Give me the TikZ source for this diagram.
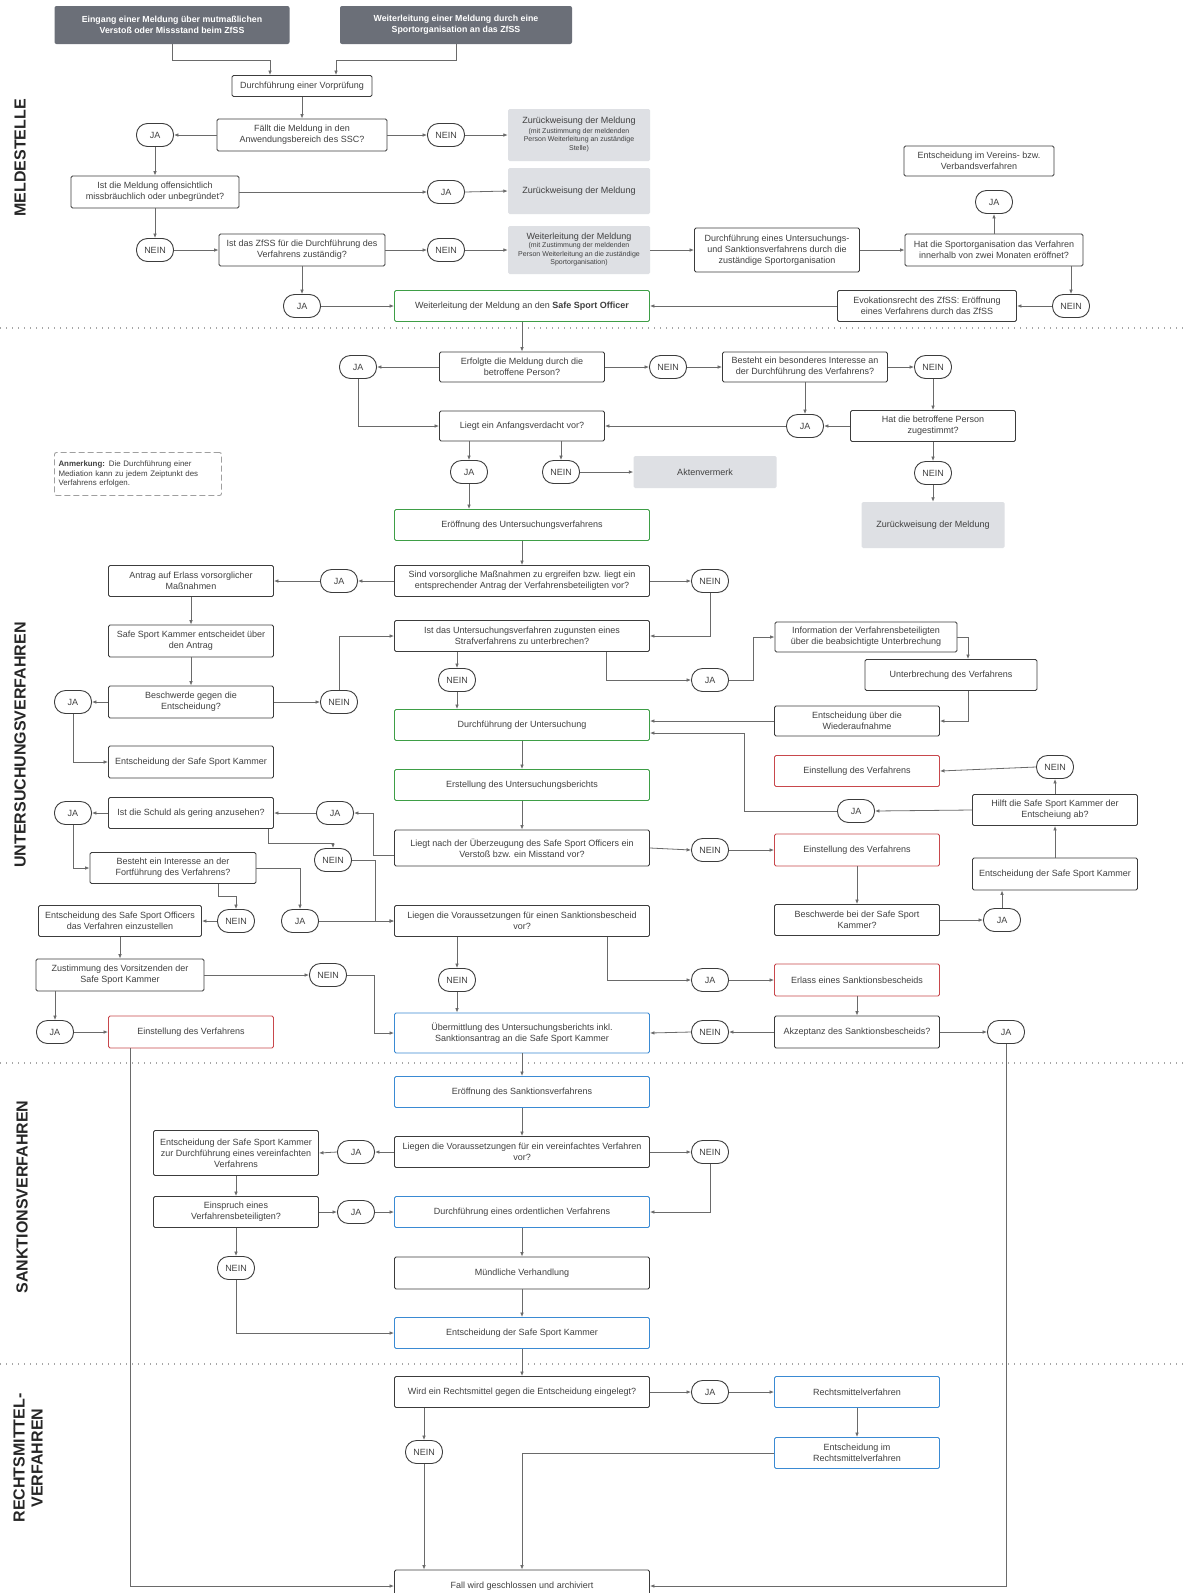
\documentclass[tikz,border=0pt]{standalone}
\usepackage{fontspec}
\setmainfont{Liberation Sans}
\usetikzlibrary{arrows.meta,calc}
\definecolor{hdr}{HTML}{6B6F78}
\definecolor{bd}{HTML}{3C3C3C}
\definecolor{lnc}{HTML}{6A6A6A}
\definecolor{txt}{HTML}{404040}
\definecolor{gboxc}{HTML}{DEE0E4}
\definecolor{grn}{HTML}{3E9E46}
\definecolor{rdc}{HTML}{C8474C}
\definecolor{blu}{HTML}{3A8AD3}
\newcommand\dfs{\fontsize{9}{11.2}\selectfont}
\newcommand\dfss{\fontsize{7}{8.4}\selectfont}
\newcommand\dfhd{\fontsize{8.8}{11}\selectfont\bfseries}
\newcommand\dflab{\fontsize{16}{18}\selectfont\bfseries}
\newcommand\dfnote{\fontsize{7.9}{9.8}\selectfont}
\newcommand\smalllines[1]{\dfss\begin{tabular}{@{}c@{}}#1\end{tabular}}
\tikzset{
 wh/.style 2 args={minimum width=#1pt, minimum height=#2pt},
 base/.style={align=center, inner sep=1pt, font=\dfs, text=txt, rounded corners=1.5pt},
 box/.style={base, draw=bd, line width=0.9pt, fill=white},
 gbx/.style={base, fill=gboxc},
 hbx/.style={base, fill=hdr, text=white, font=\dfhd, rounded corners=2pt},
 grnbox/.style={box, draw=grn},
 redbox/.style={box, draw=rdc},
 blubox/.style={box, draw=blu},
 pill/.style={draw=bd, line width=0.9pt, rounded corners=11pt, minimum width=37pt, minimum height=23pt, inner sep=0pt, font=\dfs, text=txt, fill=white},
 conn/.style={draw=lnc, line width=0.8pt, -{Latex[length=4.5pt,width=3.6pt]}},
 sep/.style={draw=gray!70, line width=1.3pt, dash pattern=on 1.3pt off 4.7pt},
 lab/.style={rotate=90, font=\dflab, text=black!85, align=center},
}
\begin{document}
\begin{tikzpicture}[x=1pt,y=-1pt]
\useasboundingbox (0,0) rectangle (1187,1593);
\fill[white] (0,0) rectangle (1187,1593);

% separators
\draw[sep] (0,328) -- (1187,328);
\draw[sep] (0,1063) -- (1187,1063);
\draw[sep] (0,1364) -- (1187,1364);

% section labels
\node[lab] (L1) at (20,158) {MELDESTELLE};
\node[lab] (L2) at (20,745) {UNTERSUCHUNGSVERFAHREN};
\node[lab] (L3) at (22,1197) {SANKTIONSVERFAHREN};
\node[lab] (L4) at (28,1458) {RECHTSMITTEL-\\VERFAHREN};

% ===== MELDESTELLE =====
\node[hbx, wh={235}{38}] (A) at (172,25) {Eingang einer Meldung über mutmaßlichen\\Verstoß oder Missstand beim ZfSS};
\node[hbx, wh={232}{38}] (B) at (456,25) {Weiterleitung einer Meldung durch eine\\Sportorganisation an das ZfSS};
\node[box, wh={140}{21}] (C) at (302,86) {Durchführung einer Vorprüfung};
\node[box, wh={170}{32}] (D) at (302,135) {Fällt die Meldung in den\\Anwendungsbereich des SSC?};
\node[pill] (JA1) at (155,135) {JA};
\node[pill] (NEIN1) at (446,135) {NEIN};
\node[gbx, wh={142}{52}] (G1) at (579,135) {Zurückweisung der Meldung\\[1pt]\smalllines{(mit Zustimmung der meldenden\\Person Weiterleitung an zuständige\\Stelle)}};
\node[box, wh={168}{32}] (E) at (155,192) {Ist die Meldung offensichtlich\\missbräuchlich oder unbegründet?};
\node[pill] (JA2) at (446,192) {JA};
\node[gbx, wh={142}{46}] (G2) at (579,191) {Zurückweisung der Meldung};
\node[box, wh={150}{30}] (J) at (979,161) {Entscheidung im Vereins- bzw.\\Verbandsverfahren};
\node[pill] (JA3) at (994,202) {JA};
\node[pill] (NEIN2) at (155,250) {NEIN};
\node[box, wh={166}{32}] (F) at (302,250) {Ist das ZfSS für die Durchführung des\\Verfahrens zuständig?};
\node[pill] (NEIN3) at (446,250) {NEIN};
\node[gbx, wh={142}{48}] (G3) at (579,250) {Weiterleitung der Meldung\\[0pt]\smalllines{(mit Zustimmung der meldenden\\Person Weiterleitung an die zuständige\\Sportorganisation)}};
\node[box, wh={165}{44}] (H) at (777,250) {Durchführung eines Untersuchungs-\\und Sanktionsverfahrens durch die\\zuständige Sportorganisation};
\node[box, wh={178}{32}] (I) at (994,250) {Hat die Sportorganisation das Verfahren\\innerhalb von zwei Monaten eröffnet?};
\node[pill] (JA4) at (302,306) {JA};
\node[grnbox, wh={255}{31}] (K) at (522,306) {Weiterleitung der Meldung an den \textbf{Safe Sport Officer}};
\node[box, wh={179}{31}] (L) at (927,306) {Evokationsrecht des ZfSS: Eröffnung\\eines Verfahrens durch das ZfSS};
\node[pill] (NEIN4) at (1071,306) {NEIN};

\draw[conn] (A.south) -- ++(0,16) -| ([xshift=-32pt]C.north);
\draw[conn] (B.south) -- ++(0,16) -| ([xshift=34pt]C.north);
\draw[conn] (C.south) -- (D.north);
\draw[conn] (D.west) -- (JA1.east);
\draw[conn] (D.east) -- (NEIN1.west);
\draw[conn] (NEIN1.east) -- (G1.west);
\draw[conn] (JA1.south) -- (E.north);
\draw[conn] (E.east) -- (JA2.west);
\draw[conn] (JA2.east) -- (G2.west);
\draw[conn] (E.south) -- (NEIN2.north);
\draw[conn] (NEIN2.east) -- (F.west);
\draw[conn] (F.east) -- (NEIN3.west);
\draw[conn] (NEIN3.east) -- (G3.west);
\draw[conn] (G3.east) -- (H.west);
\draw[conn] (H.east) -- (I.west);
\draw[conn] (I.north) -- (JA3.south);
\draw[conn] (NEIN4.north |- I.south) -- (NEIN4.north);
\draw[conn] (NEIN4.west) -- (L.east);
\draw[conn] (L.west) -- (K.east);
\draw[conn] (F.south) -- (JA4.north);
\draw[conn] (JA4.east) -- (K.west);

% ===== UNTERSUCHUNGSVERFAHREN =====
\node[box, wh={165}{30}] (M) at (522,367) {Erfolgte die Meldung durch die\\betroffene Person?};
\node[pill] (JA5) at (358,367) {JA};
\node[pill] (NEIN5) at (668,367) {NEIN};
\node[box, wh={165}{30}] (N) at (805,367) {Besteht ein besonderes Interesse an\\der Durchführung des Verfahrens?};
\node[pill] (NEIN6) at (933,367) {NEIN};
\node[box, wh={165}{30}] (O) at (522,426) {Liegt ein Anfangsverdacht vor?};
\node[pill] (JA6) at (805,426) {JA};
\node[box, wh={165}{31}] (P) at (933,426) {Hat die betroffene Person\\zugestimmt?};
\node[pill] (NEIN7) at (933,473) {NEIN};
\node[gbx, wh={143}{46}] (Q) at (933,525) {Zurückweisung der Meldung};
\node[pill] (JA7) at (469,472) {JA};
\node[pill] (NEIN8) at (561,472) {NEIN};
\node[gbx, wh={143}{32}] (R) at (705,472) {Aktenvermerk};
\node[draw=gray!75, line width=0.9pt, dash pattern=on 6pt off 3pt, rounded corners=2pt, wh={167}{43}, text width=159pt, align=left, font=\dfnote, text=txt, inner sep=3pt] (NOTE) at (138,474) {\textbf{Anmerkung:} Die Durchführung einer\\Mediation kann zu jedem Zeiptunkt des\\Verfahrens erfolgen.};
\node[grnbox, wh={255}{31}] (S) at (522,525) {Eröffnung des Untersuchungsverfahrens};
\node[box, wh={255}{31}] (T) at (522,581) {Sind vorsorgliche Maßnahmen zu ergreifen bzw. liegt ein\\entsprechender Antrag der Verfahrensbeteiligten vor?};
\node[pill] (JA8) at (339,581) {JA};
\node[box, wh={165}{31}] (U) at (191,581) {Antrag auf Erlass vorsorglicher\\Maßnahmen};
\node[pill] (NEIN9) at (710,581) {NEIN};
\node[box, wh={255}{31}] (V) at (522,636) {Ist das Untersuchungsverfahren zugunsten eines\\Strafverfahrens zu unterbrechen?};
\node[box, wh={165}{32}] (W) at (191,641) {Safe Sport Kammer entscheidet über\\den Antrag};
\node[box, wh={165}{32}] (X) at (191,702) {Beschwerde gegen die\\Entscheidung?};
\node[pill] (JA9) at (73,702) {JA};
\node[pill] (NEIN10) at (339,702) {NEIN};
\node[box, wh={165}{32}] (Y) at (191,762) {Entscheidung der Safe Sport Kammer};
\node[pill] (NEIN11) at (457,680) {NEIN};
\node[pill] (JA10) at (710,680) {JA};
\node[grnbox, wh={255}{31}] (Z) at (522,725) {Durchführung der Untersuchung};
\node[box, wh={182}{30}] (AA) at (866,637) {Information der Verfahrensbeteiligten\\über die beabsichtigte Unterbrechung};
\node[box, wh={172}{31}] (AB) at (951,675) {Unterbrechung des Verfahrens};
\node[box, wh={165}{30}] (AC) at (857,721) {Entscheidung über die\\Wiederaufnahme};
\node[redbox, wh={165}{31}] (AD) at (857,771) {Einstellung des Verfahrens};
\node[pill] (NEIN12) at (1055,767) {NEIN};
\node[box, wh={165}{31}] (AE) at (1055,810) {Hilft die Safe Sport Kammer der\\Entscheiung ab?};
\node[pill] (JA11) at (856,811) {JA};
\node[grnbox, wh={255}{31}] (AF) at (522,785) {Erstellung des Untersuchungsberichts};
\node[box, wh={255}{36}] (AG) at (522,848) {Liegt nach der Überzeugung des Safe Sport Officers ein\\Verstoß bzw. ein Misstand vor?};
\node[pill] (NEIN13) at (710,850) {NEIN};
\node[redbox, wh={165}{32}] (AH) at (857,850) {Einstellung des Verfahrens};
\node[box, wh={165}{31}] (AI) at (857,920) {Beschwerde bei der Safe Sport\\Kammer?};
\node[pill] (JA12) at (1002,920) {JA};
\node[box, wh={165}{32}] (AJ) at (1055,874) {Entscheidung der Safe Sport Kammer};
\node[pill] (JA13) at (335,813) {JA};
\node[box, wh={165}{31}] (AL) at (191,813) {Ist die Schuld als gering anzusehen?};
\node[pill] (JA15) at (73,813) {JA};
\node[box, wh={166}{31}] (AM) at (173,868) {Besteht ein Interesse an der\\Fortführung des Verfahrens?};
\node[pill] (NEIN14) at (333,860) {NEIN};
\node[pill] (NEIN15) at (236,921) {NEIN};
\node[pill] (JA14) at (300,921) {JA};
\node[box, wh={163}{31}] (AN) at (120,921) {Entscheidung des Safe Sport Officers\\das Verfahren einzustellen};
\node[box, wh={255}{31}] (AK) at (522,921) {Liegen die Voraussetzungen für einen Sanktionsbescheid\\vor?};
\node[box, wh={168}{32}] (AO) at (120,975) {Zustimmung des Vorsitzenden der\\Safe Sport Kammer};
\node[pill] (NEIN16) at (328,975) {NEIN};
\node[pill] (JA16) at (55,1032) {JA};
\node[redbox, wh={165}{32}] (AQ) at (191,1032) {Einstellung des Verfahrens};
\node[pill] (NEIN17) at (457,980) {NEIN};
\node[blubox, wh={255}{40}] (AP) at (522,1033) {Übermittlung des Untersuchungsberichts inkl.\\Sanktionsantrag an die Safe Sport Kammer};
\node[pill] (JA17) at (710,980) {JA};
\node[redbox, wh={165}{32}] (AR) at (857,980) {Erlass eines Sanktionsbescheids};
\node[box, wh={165}{32}] (AS) at (857,1032) {Akzeptanz des Sanktionsbescheids?};
\node[pill] (NEIN18) at (710,1032) {NEIN};
\node[pill] (JA18) at (1006,1032) {JA};

\draw[conn] (K.south) -- (M.north);
\draw[conn] (M.west) -- (JA5.east);
\draw[conn] (M.east) -- (NEIN5.west);
\draw[conn] (NEIN5.east) -- (N.west);
\draw[conn] (N.east) -- (NEIN6.west);
\draw[conn] (N.south) -- (JA6.north);
\draw[conn] (JA6.west) -- (O.east);
\draw[conn] (NEIN6.south) -- (P.north);
\draw[conn] (P.west) -- (JA6.east);
\draw[conn] (P.south) -- (NEIN7.north);
\draw[conn] (NEIN7.south) -- (Q.north);
\draw[conn] (JA5.south) |- (O.west);
\draw[conn] (JA7.north |- O.south) -- (JA7.north);
\draw[conn] (NEIN8.north |- O.south) -- (NEIN8.north);
\draw[conn] (NEIN8.east) -- (R.west);
\draw[conn] (JA7.south) -- (JA7.south |- S.north);
\draw[conn] (S.south) -- (T.north);
\draw[conn] (T.west) -- (JA8.east);
\draw[conn] (JA8.west) -- (U.east);
\draw[conn] (T.east) -- (NEIN9.west);
\draw[conn] (NEIN9.south) |- (V.east);
\draw[conn] (U.south) -- (W.north);
\draw[conn] (W.south) -- (X.north);
\draw[conn] (X.west) -- (JA9.east);
\draw[conn] (X.east) -- (NEIN10.west);
\draw[conn] (NEIN10.north) |- (V.west);
\draw[conn] (JA9.south) |- (Y.west);
\draw[conn] (NEIN11.north |- V.south) -- (NEIN11.north);
\draw[conn] (NEIN11.south) -- (NEIN11.south |- Z.north);
\draw[conn] ([xshift=84pt]V.south) |- (JA10.west);
\draw[conn] (JA10.east) -- ++(24,0) |- (AA.west);
\draw[conn] (AA.east) -| ([xshift=17pt]AB.north);
\draw[conn] ([xshift=17pt]AB.south) |- (AC.east);
\draw[conn] (AC.west) -- (AC.west -| Z.east);
\draw[conn] (AE.north) -- (NEIN12.south);
\draw[conn] (NEIN12.west) -- (AD.east);
\draw[conn] (AE.west) -- (JA11.east);
\draw[conn] (JA11.west) -- ++(-93,0) |- ([yshift=-8pt]Z.east);
\draw[conn] (Z.south) -- (AF.north);
\draw[conn] (AF.south) -- (AG.north);
\draw[conn] (AG.east) -- (NEIN13.west);
\draw[conn] (NEIN13.east) -- (AH.west);
\draw[conn] (AH.south) -- (AI.north);
\draw[conn] (AI.east) -- (JA12.west);
\draw[conn] (JA12.north) -- (JA12.north |- AJ.south);
\draw[conn] (AJ.north) -- (AE.south);
\draw[conn] ([yshift=-7pt]AG.west) -- ++(-21,0) |- (JA13.east);
\draw[conn] (JA13.west) -- (AL.east);
\draw[conn] (AL.west) -- (JA15.east);
\draw[conn] (JA15.south) |- (AM.west);
\draw[conn] ([xshift=77pt]AL.south) -- ++(0,14) -| (NEIN14.north);
\draw[conn] (NEIN14.east) -- ++(23,0) |- (AK.west);
\draw[conn] (JA14.east) -- (AK.west);
\draw[conn] ([xshift=45pt]AM.south) -- ++(0,12) -| (NEIN15.north);
\draw[conn] (AM.east) -| (JA14.north);
\draw[conn] (NEIN15.west) -- (AN.east);
\draw[conn] (AN.south) -- (AO.north);
\draw[conn] (AO.east) -- (NEIN16.west);
\draw[conn] (NEIN16.east) -- ++(27,0) |- (AP.west);
\draw[conn] (JA16.north |- AO.south) -- (JA16.north);
\draw[conn] (JA16.east) -- (AQ.west);
\draw[conn] (NEIN17.north |- AK.south) -- (NEIN17.north);
\draw[conn] (NEIN17.south) -- (NEIN17.south |- AP.north);
\draw[conn] ([xshift=85pt]AK.south) |- (JA17.west);
\draw[conn] (JA17.east) -- (AR.west);
\draw[conn] (AR.south) -- (AS.north);
\draw[conn] (AS.west) -- (NEIN18.east);
\draw[conn] (NEIN18.west) -- (AP.east);
\draw[conn] (AS.east) -- (JA18.west);

% ===== SANKTIONSVERFAHREN =====
\node[blubox, wh={255}{31}] (AT) at (522,1092) {Eröffnung des Sanktionsverfahrens};
\node[box, wh={255}{31}] (AU) at (522,1152) {Liegen die Voraussetzungen für ein vereinfachtes Verfahren\\vor?};
\node[pill] (JA19) at (356,1152) {JA};
\node[box, wh={165}{45}] (AV) at (236,1153) {Entscheidung der Safe Sport Kammer\\zur Durchführung eines vereinfachten\\Verfahrens};
\node[pill] (NEIN19) at (710,1152) {NEIN};
\node[box, wh={165}{31}] (AW) at (236,1212) {Einspruch eines\\Verfahrensbeteiligten?};
\node[pill] (JA20) at (356,1212) {JA};
\node[blubox, wh={255}{31}] (AX) at (522,1212) {Durchführung eines ordentlichen Verfahrens};
\node[pill] (NEIN20) at (236,1268) {NEIN};
\node[box, wh={255}{32}] (AY) at (522,1273) {Mündliche Verhandlung};
\node[blubox, wh={255}{31}] (AZ) at (522,1333) {Entscheidung der Safe Sport Kammer};

\draw[conn] (AP.south) -- (AT.north);
\draw[conn] (AT.south) -- (AU.north);
\draw[conn] (AU.west) -- (JA19.east);
\draw[conn] (JA19.west) -- (AV.east);
\draw[conn] (AU.east) -- (NEIN19.west);
\draw[conn] (NEIN19.south) |- (AX.east);
\draw[conn] (AV.south) -- (AW.north);
\draw[conn] (AW.east) -- (JA20.west);
\draw[conn] (JA20.east) -- (AX.west);
\draw[conn] (AW.south) -- (NEIN20.north);
\draw[conn] (NEIN20.south) |- (AZ.west);
\draw[conn] (AX.south) -- (AY.north);
\draw[conn] (AY.south) -- (AZ.north);

% ===== RECHTSMITTELVERFAHREN =====
\node[box, wh={255}{31}] (BA) at (522,1392) {Wird ein Rechtsmittel gegen die Entscheidung eingelegt?};
\node[pill] (JA21) at (710,1392) {JA};
\node[blubox, wh={165}{31}] (BB) at (857,1392) {Rechtsmittelverfahren};
\node[blubox, wh={165}{31}] (BC) at (857,1453) {Entscheidung im\\Rechtsmittelverfahren};
\node[pill] (NEIN21) at (424,1452) {NEIN};
\node[box, wh={255}{32}] (BD) at (522,1586) {Fall wird geschlossen und archiviert};

\draw[conn] (AZ.south) -- (BA.north);
\draw[conn] (BA.east) -- (JA21.west);
\draw[conn] (JA21.east) -- (BB.west);
\draw[conn] (BB.south) -- (BC.north);
\draw[conn] (NEIN21.north |- BA.south) -- (NEIN21.north);
\draw[conn] (NEIN21.south) -- (NEIN21.south |- BD.north);
\draw[conn] (BC.west) -| (BD.north);
\draw[conn] ([xshift=-61pt]AQ.south) |- (BD.west);
\draw[conn] (JA18.south) |- (BD.east);
\end{tikzpicture}
\end{document}
